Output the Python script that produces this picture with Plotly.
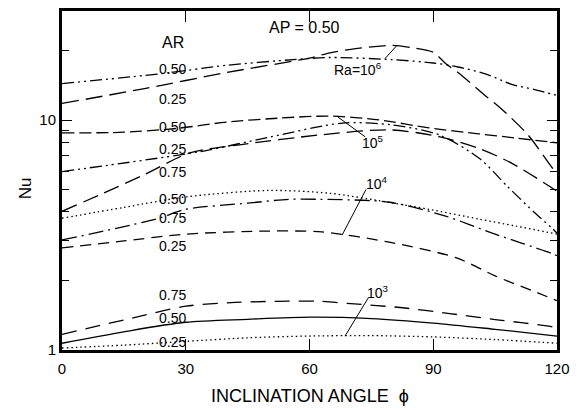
import plotly.graph_objects as go

# ---------------- data ----------------
# Ra = 1e6
phi_r6_a050 = [0, 24, 40, 56, 65, 80, 90, 96, 103, 109, 115, 120]
nu_r6_a050 = [14.4, 15.9, 17.3, 18.3, 18.7, 18.3, 17.7, 17.0, 15.8, 14.3, 13.5, 12.8]
phi_r6_a025 = [0, 20, 40, 60, 65, 70, 75, 80, 85, 90, 93, 96, 103, 106, 113, 119, 120]
nu_r6_a025 = [11.8, 13.7, 16.1, 18.6, 19.6, 20.3, 20.8, 21.1, 20.6, 19.7, 17.6, 16.1, 12.6, 11.4, 8.6, 6.15, 5.9]

# Ra = 1e5
phi_r5_a050 = [0, 15, 28, 40, 53, 65, 77, 89, 101, 110, 120]
nu_r5_a050 = [8.79, 8.85, 9.2, 9.8, 10.2, 10.4, 10.0, 9.24, 8.71, 8.35, 7.96]
phi_r5_a025 = [0, 33.5, 50, 68, 80, 91.5, 101.3, 108, 115, 119, 120]
nu_r5_a025 = [5.97, 7.29, 8.4, 9.7, 9.52, 8.61, 6.78, 5.14, 3.89, 3.36, 3.22]
phi_r5_a075 = [0, 10, 20, 31, 43, 62.5, 79.5, 91.6, 101.3, 109.3, 119, 120]
nu_r5_a075 = [4.01, 4.8, 5.79, 7.2, 7.8, 8.61, 9.06, 8.45, 7.5, 6.45, 5.04, 4.9]

# Ra = 1e4
phi_r4_a050 = [0, 15, 30, 50, 65, 79, 89, 101, 110, 120]
nu_r4_a050 = [3.74, 4.17, 4.63, 4.94, 4.80, 4.39, 4.09, 3.71, 3.46, 3.19]
phi_r4_a075 = [0, 23, 30, 45, 55, 62.5, 79.5, 93, 105, 119, 120]
nu_r4_a075 = [3.01, 3.72, 4.09, 4.35, 4.52, 4.52, 4.39, 3.82, 3.19, 2.62, 2.57]
phi_r4_a025 = [0, 15, 30, 50, 63, 79, 95.5, 105, 114, 120]
nu_r4_a025 = [2.78, 2.98, 3.19, 3.29, 3.26, 2.95, 2.52, 2.1, 1.81, 1.64]

# Ra = 1e3
phi_r3_a075 = [0, 18, 30, 42, 62, 70, 82, 94, 106, 119, 120]
nu_r3_a075 = [1.17, 1.39, 1.55, 1.61, 1.63, 1.59, 1.53, 1.44, 1.35, 1.26, 1.24]
phi_r3_a050 = [0, 15, 30, 45, 60, 75, 90, 105, 120]
nu_r3_a050 = [1.07, 1.20, 1.32, 1.36, 1.39, 1.37, 1.31, 1.23, 1.15]
phi_r3_a025 = [0, 15, 30, 45, 60, 75, 90, 105, 120]
nu_r3_a025 = [1.02, 1.05, 1.09, 1.13, 1.15, 1.155, 1.14, 1.11, 1.07]

x_ticks = [0, 30, 60, 90, 120]
y_ticks = [1, 10]
y_minor = [2, 3, 4, 5, 6, 7, 8, 9, 20]

# AR labels: (text, log10 Nu position)
ar_labels = [("AR", 1.336), ("0.50", 1.224), ("0.25", 1.091), ("0.50", 0.970),
             ("0.25", 0.875), ("0.75", 0.772), ("0.50", 0.655), ("0.75", 0.573),
             ("0.25", 0.453), ("0.75", 0.237), ("0.50", 0.138), ("0.25", 0.034)]

# Ra labels with leader lines: text, label (phi, log Nu), leader (phi0, Nu0, phi1, Nu1)
ra_labels = [
    ("Ra=10<sup>6</sup>", 71.8, 1.224, (78.3, 18.5, 81.2, 21.1)),
    ("10<sup>5</sup>", 75.4, 0.905, (66.9, 10.3, 73.5, 8.45)),
    ("10<sup>4</sup>", 76.3, 0.728, (73.7, 4.99, 67.9, 3.16)),
    ("10<sup>3</sup>", 76.6, 0.254, (74.2, 1.68, 68.6, 1.149)),
]

DDOT = "12px,4px,2px,4px,2px,4px"
series = [
    (phi_r6_a050, nu_r6_a050, DDOT),
    (phi_r6_a025, nu_r6_a025, "17px,7px"),
    (phi_r5_a050, nu_r5_a050, "12px,5px"),
    (phi_r5_a025, nu_r5_a025, DDOT),
    (phi_r5_a075, nu_r5_a075, "16px,7px"),
    (phi_r4_a050, nu_r4_a050, "1.5px,3px"),
    (phi_r4_a075, nu_r4_a075, "15px,5px,2px,5px"),
    (phi_r4_a025, nu_r4_a025, "11px,7px"),
    (phi_r3_a075, nu_r3_a075, "15px,9px"),
    (phi_r3_a050, nu_r3_a050, "solid"),
    (phi_r3_a025, nu_r3_a025, "1.5px,3px"),
]

FONT = "Liberation Sans, Arial, Helvetica, sans-serif"

fig = go.Figure()
for ph, nu, dash in series:
    fig.add_trace(go.Scatter(
        x=ph, y=nu, mode="lines", showlegend=False, hoverinfo="skip",
        line=dict(color="black", width=1.3, dash=dash, shape="spline", smoothing=0.8),
    ))

annotations = []
for txt, ly in ar_labels:
    annotations.append(dict(x=26.8, y=ly, xref="x", yref="y", text=txt, showarrow=False,
                            xanchor="center", yanchor="middle",
                            font=dict(size=16 if txt == "AR" else 14, family=FONT, color="black")))
annotations.append(dict(x=58.7, y=1.401, xref="x", yref="y", text="AP = 0.50", showarrow=False,
                        xanchor="center", yanchor="middle",
                        font=dict(size=16, family=FONT, color="black")))
shapes = []
for txt, lx, ly, (x0, y0, x1, y1) in ra_labels:
    annotations.append(dict(x=lx, y=ly, xref="x", yref="y", text=txt, showarrow=False,
                            xanchor="center", yanchor="middle",
                            font=dict(size=14, family=FONT, color="black")))
    shapes.append(dict(type="line", xref="x", yref="y", x0=x0, y0=y0, x1=x1, y1=y1,
                       line=dict(color="black", width=1)))

annotations.append(dict(x=0.501, y=-0.1345, xref="paper", yref="paper",
                        text="INCLINATION ANGLE  ϕ", showarrow=False,
                        xanchor="center", yanchor="middle",
                        font=dict(size=18, family=FONT, color="black")))
annotations.append(dict(x=-0.0747, y=0.477, xref="paper", yref="paper",
                        text="Nu", showarrow=False, textangle=-90,
                        xanchor="center", yanchor="middle",
                        font=dict(size=17, family=FONT, color="black")))

fig.update_layout(
    width=578, height=410,
    margin=dict(l=62, r=21, t=8, b=60),
    paper_bgcolor="white", plot_bgcolor="white",
    font=dict(family=FONT, color="black", size=15),
    showlegend=False,
    annotations=annotations,
    shapes=shapes,
)
fig.update_xaxes(
    range=[0, 120], tickmode="array", tickvals=x_ticks,
    ticks="inside", ticklen=11, tickwidth=1.2, tickcolor="black",
    showline=True, linewidth=3, linecolor="black", mirror="allticks",
    showgrid=False, zeroline=False, tickfont=dict(size=15, family=FONT),
    ticklabelstandoff=3,
)
fig.update_yaxes(
    type="log", range=[0, 1.474], tickmode="array", tickvals=y_ticks,
    ticktext=[str(v) for v in y_ticks],
    ticks="inside", ticklen=10, tickwidth=1.2, tickcolor="black",
    showline=True, linewidth=3, linecolor="black", mirror="allticks",
    showgrid=False, zeroline=False, tickfont=dict(size=15, family=FONT),
    minor=dict(tickmode="array", tickvals=y_minor, ticks="inside", ticklen=7,
               tickwidth=1.2, tickcolor="black", showgrid=False),
)

fig.write_html("out.html")
